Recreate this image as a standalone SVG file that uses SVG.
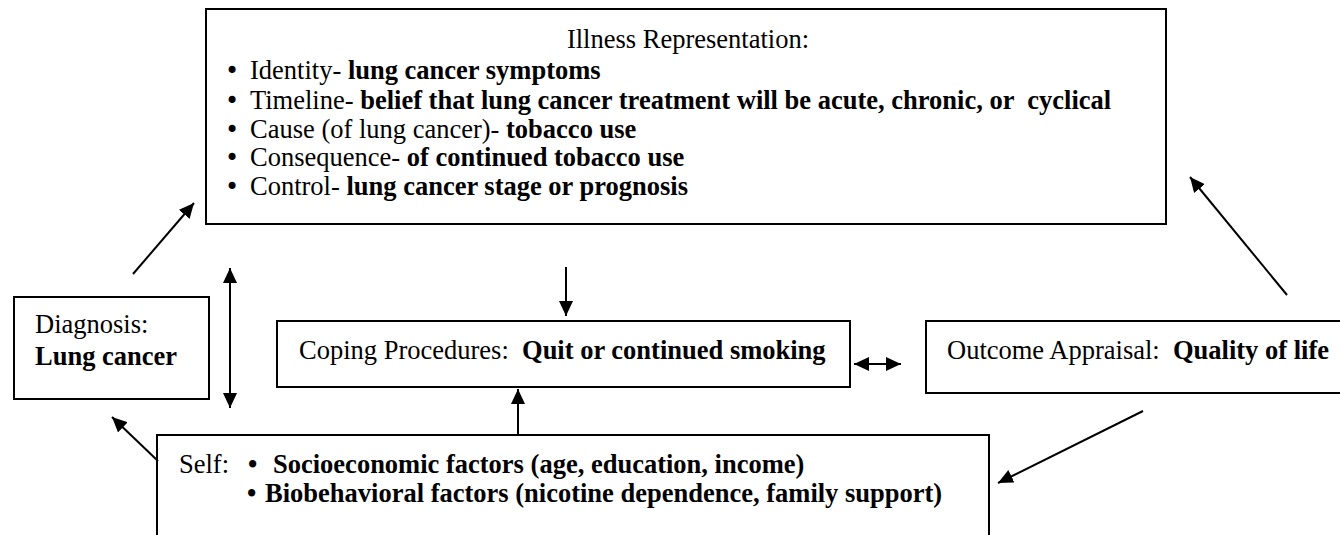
<svg xmlns="http://www.w3.org/2000/svg" width="1340" height="535" viewBox="0 0 1340 535">
<defs>
<style>
.box{fill:#fff;stroke:#000;stroke-width:2}
.t{font-family:"Liberation Serif","Times New Roman",serif;font-size:26.5px;fill:#000;white-space:pre}
.b{font-weight:bold}
.bl{font-family:"DejaVu Sans",sans-serif;font-size:24px;fill:#000}
.c{stroke:#000;stroke-width:2;fill:none}
</style>
<marker id="ah" markerUnits="userSpaceOnUse" markerWidth="16" markerHeight="14" refX="15" refY="7" orient="auto-start-reverse">
<path d="M0,0 L15,7 L0,14 z" fill="#000"/>
</marker>
</defs>
<g id="illness">
<rect class="box" x="206" y="9" width="960" height="215"/>
<text class="t" x="688" y="48" text-anchor="middle">Illness Representation:</text>
<text class="bl" x="225" y="79">•</text><text class="t" x="250" y="79">Identity- <tspan class="b">lung cancer symptoms</tspan></text>
<text class="bl" x="225" y="109">•</text><text class="t" x="250" y="109">Timeline- <tspan class="b">belief that lung cancer treatment will be acute, chronic, or  cyclical</tspan></text>
<text class="bl" x="225" y="138">•</text><text class="t" x="250" y="138">Cause (of lung cancer)- <tspan class="b">tobacco use</tspan></text>
<text class="bl" x="225" y="166">•</text><text class="t" x="250" y="166">Consequence- <tspan class="b">of continued tobacco use</tspan></text>
<text class="bl" x="225" y="195">•</text><text class="t" x="250" y="195">Control- <tspan class="b">lung cancer stage or prognosis</tspan></text>
</g>
<g id="diagnosis">
<rect class="box" x="14" y="297" width="195" height="102"/>
<text class="t" x="35" y="333">Diagnosis:</text>
<text class="t b" x="35" y="365">Lung cancer</text>
</g>
<g id="coping">
<rect class="box" x="277" y="321" width="573" height="66"/>
<text class="t" x="299" y="359">Coping Procedures:  <tspan class="b">Quit or continued smoking</tspan></text>
</g>
<g id="outcome">
<rect class="box" x="926" y="321" width="420" height="72"/>
<text class="t" x="947" y="359">Outcome Appraisal:  <tspan class="b">Quality of life</tspan></text>
</g>
<g id="self">
<rect class="box" x="157" y="435" width="832" height="110"/>
<text class="t" x="179" y="473">Self:</text>
<text class="t b" x="248" y="473">•</text>
<text class="t b" x="273" y="473">Socioeconomic factors (age, education, income)</text>
<text class="t b" x="247" y="502">•</text>
<text class="t b" x="265" y="502">Biobehavioral factors (nicotine dependence, family support)</text>
</g>
<g id="connectors">
<line class="c" x1="133" y1="274" x2="194" y2="203" marker-end="url(#ah)"/>
<line class="c" x1="230" y1="268" x2="230" y2="408" marker-start="url(#ah)" marker-end="url(#ah)"/>
<line class="c" x1="566" y1="267" x2="566" y2="316" marker-end="url(#ah)"/>
<line class="c" x1="518" y1="435" x2="518" y2="389" marker-end="url(#ah)"/>
<line class="c" x1="854" y1="364" x2="901" y2="364" marker-start="url(#ah)" marker-end="url(#ah)"/>
<line class="c" x1="1287" y1="295" x2="1190" y2="177" marker-end="url(#ah)"/>
<line class="c" x1="1143" y1="411" x2="998" y2="483" marker-end="url(#ah)"/>
<line class="c" x1="158" y1="461" x2="112" y2="417" marker-end="url(#ah)"/>
</g>
</svg>
